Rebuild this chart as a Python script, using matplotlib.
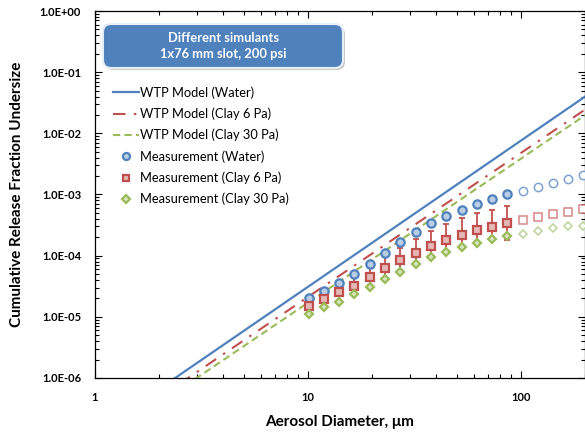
import matplotlib
matplotlib.use('Agg')
import matplotlib.pyplot as plt
from matplotlib.patches import FancyBboxPatch
from matplotlib.ticker import FuncFormatter, LogLocator, NullFormatter

plt.rcParams['font.family'] = ['Lato', 'DejaVu Sans']

# measured points, aerosol diameter in um
diam = [10.1, 11.9, 14.0, 16.5, 19.5, 23.0, 27.2, 32.1, 37.9, 44.6, 53.0, 62.5, 73.1, 86.3]
diam_ext = [102, 120, 141, 167, 196]

water = [2.0e-5, 2.65e-5, 3.6e-5, 5.0e-5, 7.3e-5, 1.11e-4, 1.67e-4, 2.44e-4,
         3.46e-4, 4.4e-4, 5.6e-4, 7.0e-4, 8.3e-4, 1.0e-3]
water_ext = [1.16e-3, 1.34e-3, 1.56e-3, 1.79e-3, 2.08e-3]

clay6 = [1.52e-5, 1.96e-5, 2.52e-5, 3.24e-5, 4.48e-5, 6.2e-5, 8.5e-5, 1.11e-4,
         1.44e-4, 1.82e-4, 2.18e-4, 2.6e-4, 2.98e-4, 3.38e-4]
clay6_ext = [3.83e-4, 4.29e-4, 4.74e-4, 5.2e-4, 5.7e-4]
clay6_hi = [2.0e-5, 2.6e-5, 3.4e-5, 4.5e-5, 6.5e-5, 9.5e-5, 1.35e-4, 1.85e-4,
            2.57e-4, 3.26e-4, 4.08e-4, 4.93e-4, 5.58e-4, 6.57e-4]
clay6_lo = [1.1e-5, 1.4e-5, 1.75e-5, 2.3e-5, 3.1e-5, 4.1e-5, 5.4e-5, 7.1e-5,
            9.4e-5, 1.14e-4, 1.35e-4, 1.57e-4, 1.82e-4, 1.8e-4]

clay30 = [1.1e-5, 1.43e-5, 1.77e-5, 2.33e-5, 3.11e-5, 4.1e-5, 5.47e-5, 7.2e-5,
          9.6e-5, 1.16e-4, 1.37e-4, 1.59e-4, 1.85e-4, 2.07e-4]
clay30_ext = [2.26e-4, 2.56e-4, 2.87e-4, 3.0e-4, 3.1e-4]

# WTP model lines (straight on log-log), end points at d = 1 and d = 200
model_x = [1, 200]
model_water = [1.26e-7, 3.98e-2]
model_clay6 = [9.35e-8, 2.44e-2]
model_clay30 = [7.5e-8, 1.97e-2]

blue, red, green = '#4f81bd', '#c0504d', '#9bbb59'

fig = plt.figure(figsize=(5.85, 4.36), dpi=100)
ax = fig.add_axes([95/585, 1-378/436, 490/585, 367/436])

ax.plot(model_x, model_water, color=blue, lw=1.6, label='WTP Model (Water)')
ax.plot(model_x, model_clay6, color=red, lw=1.5, dashes=(6, 4, 1.2, 4), label='WTP Model (Clay 6 Pa)')
ax.plot(model_x, model_clay30, color=green, lw=1.5, dashes=(3.5, 2), label='WTP Model (Clay 30 Pa)')

lower = [c - l for c, l in zip(clay6, clay6_lo)]
upper = [h - c for c, h in zip(clay6, clay6_hi)]
ax.errorbar(diam, clay6, yerr=[lower, upper], fmt='none', ecolor=red, elinewidth=1.3,
            capsize=2.5, capthick=1.3, zorder=3)

ax.plot(diam, water, 'o', ms=6, mfc='#b9cde5', mec=blue, mew=1.6, zorder=4,
        label='Measurement (Water)')
ax.plot(diam, clay6, 's', ms=5.8, mfc='#e6b9b8', mec=red, mew=1.6, zorder=4,
        label='Measurement (Clay 6 Pa)')
ax.plot(diam, clay30, 'D', ms=4.3, mfc='#d7e4bd', mec=green, mew=1.6, zorder=4,
        label='Measurement (Clay 30 Pa)')

ax.plot(diam_ext, water_ext, 'o', ms=6, mfc='white', mec='#7fa3d0', mew=1.1, zorder=4)
ax.plot(diam_ext, clay6_ext, 's', ms=5.8, mfc='white', mec='#d88886', mew=1.1, zorder=4)
ax.plot(diam_ext, clay30_ext, 'D', ms=4.3, mfc='white', mec='#bcd39a', mew=1.1, zorder=4)

ax.set_xscale('log')
ax.set_yscale('log')
ax.set_xlim(1, 200)
ax.set_ylim(1e-6, 1)
ax.xaxis.set_major_formatter(FuncFormatter(lambda v, _: f'{v:g}'))
ax.xaxis.set_minor_formatter(NullFormatter())
ax.yaxis.set_major_formatter(FuncFormatter(lambda v, _: f'{v:.1E}'))
ax.yaxis.set_major_locator(LogLocator(base=10, numticks=10))
ax.yaxis.set_minor_locator(LogLocator(base=10, subs=range(2, 10), numticks=10))
ax.yaxis.set_minor_formatter(NullFormatter())
ax.tick_params(which='both', direction='in', top=True, right=True, width=0.8)
ax.tick_params(which='major', length=5, pad=10)
ax.tick_params(which='minor', length=3)
for lab in ax.get_xticklabels() + ax.get_yticklabels():
    lab.set_fontweight('bold')
    lab.set_fontsize(8)
for s in ax.spines.values():
    s.set_linewidth(0.9)

ax.set_xlabel('Aerosol Diameter, μm', fontsize=11, fontweight='bold', labelpad=9)
ax.set_ylabel('Cumulative Release Fraction Undersize', fontsize=11, fontweight='bold', labelpad=11)

leg = ax.legend(loc='upper left', bbox_to_anchor=(0.037, 0.795), frameon=False, fontsize=9.3,
                handlelength=2.0, handletextpad=0.1, labelspacing=0.68, borderaxespad=0,
                borderpad=0, markerscale=0.85)

# title box
asp = 585 / 436
shadow = FancyBboxPatch((105/585, 1-70/436), 240/585, 44/436, transform=fig.transFigure,
                        boxstyle='round,pad=0,rounding_size=0.014', mutation_aspect=asp,
                        fc='#c8c8c8', ec='none', zorder=5)
box = FancyBboxPatch((103/585, 1-68/436), 240/585, 44/436, transform=fig.transFigure,
                     boxstyle='round,pad=0,rounding_size=0.014', mutation_aspect=asp,
                     fc=blue, ec='#e8eef6', lw=1.5, zorder=6)
fig.patches.extend([shadow, box])
fig.text(223/585, 1-46/436, 'Different simulants\n1x76 mm slot, 200 psi', color='white',
         fontsize=9.3, fontweight='bold', ha='center', va='center', linespacing=1.45, zorder=7)

fig.savefig('out.png', dpi=100)
